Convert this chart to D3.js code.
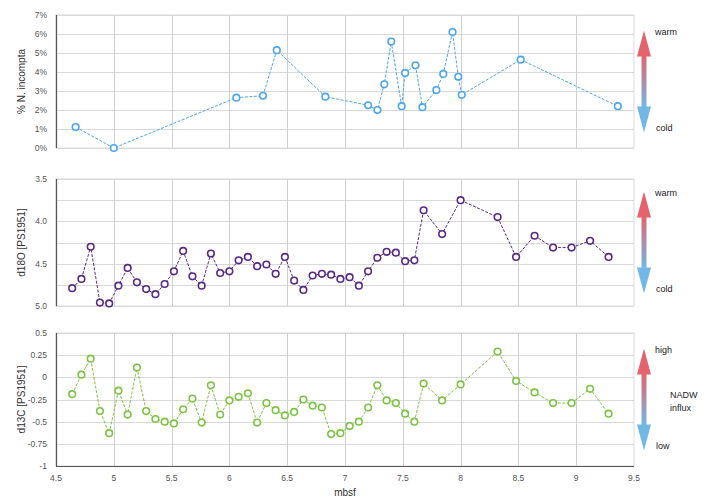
<!DOCTYPE html>
<html>
<head>
<meta charset="utf-8">
<script src="https://cdn.jsdelivr.net/npm/d3@7"></script>
<style>
  html, body { margin: 0; padding: 0; background: #ffffff; }
  svg { display: block; font-family: "Liberation Sans", Arial, Helvetica, sans-serif; }
</style>
</head>
<body>
<svg id="chart" width="710" height="500"></svg>
<script>
// Depth (mbsf) of each N. incompta sample and its abundance (%)
const incomptaDepth = [4.67, 5.00, 6.06, 6.29, 6.41, 6.83, 7.20, 7.28, 7.34, 7.40, 7.49, 7.52, 7.61, 7.67, 7.79, 7.85, 7.93, 7.98, 8.01, 8.52, 9.36];
const incomptaPct   = [1.1, 0.0, 2.65, 2.75, 5.15, 2.7, 2.25, 2.0, 3.35, 5.6, 2.2, 3.95, 4.35, 2.15, 3.05, 3.9, 6.1, 3.75, 2.8, 4.65, 2.2];

// Depths of the stable isotope samples (PS1951)
const isoDepth = [4.64, 4.72, 4.80, 4.88, 4.96, 5.04, 5.12, 5.20, 5.28, 5.36, 5.44, 5.52, 5.60, 5.68, 5.76, 5.84,
                  5.92, 6.00, 6.08, 6.16, 6.24, 6.32, 6.40, 6.48, 6.56, 6.64, 6.72, 6.80, 6.88, 6.96, 7.04, 7.12,
                  7.20, 7.28, 7.36, 7.44, 7.52, 7.60, 7.68, 7.84, 8.00, 8.32, 8.48, 8.64, 8.80, 8.96, 9.12, 9.28];
const d18O = [4.79, 4.68, 4.30, 4.96, 4.97, 4.76, 4.55, 4.72, 4.80, 4.86, 4.74, 4.59, 4.35, 4.65, 4.76, 4.38,
              4.61, 4.59, 4.46, 4.42, 4.53, 4.51, 4.62, 4.42, 4.70, 4.81, 4.64, 4.62, 4.63, 4.68, 4.66, 4.76,
              4.59, 4.43, 4.36, 4.37, 4.47, 4.46, 3.87, 4.15, 3.75, 3.95, 4.42, 4.17, 4.31, 4.31, 4.23, 4.42];
const d13C = [-0.19, 0.03, 0.21, -0.38, -0.63, -0.15, -0.42, 0.11, -0.38, -0.47, -0.50, -0.52, -0.36, -0.24, -0.51, -0.09,
              -0.42, -0.26, -0.22, -0.18, -0.51, -0.29, -0.37, -0.43, -0.39, -0.25, -0.32, -0.34, -0.64, -0.63, -0.55, -0.50,
              -0.34, -0.09, -0.26, -0.29, -0.41, -0.50, -0.07, -0.26, -0.08, 0.29, -0.04, -0.17, -0.29, -0.29, -0.13, -0.41];

// Axis ticks
const xTicks = [4.5, 5, 5.5, 6, 6.5, 7, 7.5, 8, 8.5, 9, 9.5];
const xTickLabels = ["4.5", "5", "5.5", "6", "6.5", "7", "7.5", "8", "8.5", "9", "9.5"];
const pctTicks = [0, 1, 2, 3, 4, 5, 6, 7];
const pctTickLabels = ["0%", "1%", "2%", "3%", "4%", "5%", "6%", "7%"];
const d18OTicks = [3.5, 4.0, 4.5, 5.0];
const d18OTickLabels = ["3.5", "4.0", "4.5", "5.0"];
const d18OGrid = [3.5, 3.75, 4.0, 4.25, 4.5, 4.75, 5.0];
const d13CTicks = [0.5, 0.25, 0, -0.25, -0.5, -0.75, -1];
const d13CTickLabels = ["0.5", "0.25", "0", "-0.25", "-0.5", "-0.75", "-1"];

const svg = d3.select("#chart");
const left = 56, right = 634;
const x = d3.scaleLinear().domain([4.5, 9.5]).range([left, right]);

const defs = svg.append("defs");
const grad = defs.append("linearGradient").attr("id", "arrowGrad")
  .attr("x1", 0).attr("y1", 0).attr("x2", 0).attr("y2", 1);
grad.append("stop").attr("offset", "0%").attr("stop-color", "#e4646c");
grad.append("stop").attr("offset", "100%").attr("stop-color", "#72b8e6");
defs.append("filter").attr("id", "soft").append("feGaussianBlur").attr("stdDeviation", 0.5);

const panels = [
  { top: 15, bottom: 148, domain: [0, 7], ticks: pctTicks, labels: pctTickLabels, grid: pctTicks,
    xs: incomptaDepth, ys: incomptaPct, color: "#4da6ee", title: "% N. incompta",
    up: "warm", down: "cold", bottomAxis: false },
  { top: 179, bottom: 306, domain: [5.0, 3.5], ticks: d18OTicks, labels: d18OTickLabels, grid: d18OGrid,
    xs: isoDepth, ys: d18O, color: "#5a2a84", title: "d18O [PS1951]",
    up: "warm", down: "cold", bottomAxis: false },
  { top: 333, bottom: 466, domain: [-1, 0.5], ticks: d13CTicks, labels: d13CTickLabels, grid: d13CTicks,
    xs: isoDepth, ys: d13C, color: "#7cc443", title: "d13C [PS1951]",
    up: "high", down: "low", side: ["NADW", "influx"], bottomAxis: true }
];

panels.forEach(p => {
  const y = d3.scaleLinear().domain(p.domain).range([p.bottom, p.top]);
  const g = svg.append("g");

  // frame
  g.append("rect").attr("x", left).attr("y", p.top).attr("width", right - left).attr("height", p.bottom - p.top)
    .attr("fill", "none").attr("stroke", "#dcdcdc").attr("stroke-width", 1);

  // horizontal grid
  g.selectAll(".hg").data(p.grid).join("line")
    .attr("x1", left).attr("x2", right)
    .attr("y1", d => Math.round(y(d)) + 0.5).attr("y2", d => Math.round(y(d)) + 0.5)
    .attr("stroke", "#d9d9d9").attr("stroke-width", 1);

  // vertical grid
  g.selectAll(".vg").data(xTicks.slice(1, -1)).join("line")
    .attr("x1", d => Math.round(x(d)) + 0.5).attr("x2", d => Math.round(x(d)) + 0.5)
    .attr("y1", p.top).attr("y2", p.bottom)
    .attr("stroke", "#cfcfcf").attr("stroke-width", 1);

  // left axis line
  g.append("line").attr("x1", left + 0.5).attr("x2", left + 0.5).attr("y1", p.top).attr("y2", p.bottom)
    .attr("stroke", "#555").attr("stroke-width", 1.2);

  // y tick labels
  g.selectAll(".yl").data(p.ticks).join("text")
    .attr("x", 47).attr("y", d => y(d) + 3)
    .attr("text-anchor", "end").attr("font-size", 8.5).attr("fill", "#555")
    .text((d, i) => p.labels[i]);

  // y title
  g.append("text")
    .attr("transform", `translate(25,${(p.top + p.bottom) / 2}) rotate(-90)`)
    .attr("text-anchor", "middle").attr("font-size", 10).attr("fill", "#333")
    .text(p.title);

  // series line and markers
  const pts = p.xs.map((d, i) => [d, p.ys[i]]);
  g.append("path").datum(pts)
    .attr("d", d3.line().x(d => x(d[0])).y(d => y(d[1])))
    .attr("fill", "none").attr("stroke", p.color).attr("stroke-width", 1)
    .attr("stroke-dasharray", "3,1.5");
  g.selectAll(".pt").data(pts).join("circle")
    .attr("cx", d => x(d[0])).attr("cy", d => y(d[1])).attr("r", 3.3)
    .attr("fill", "#fff").attr("stroke", p.color).attr("stroke-width", 1.6);

  // direction arrow
  const cx = 644, mid = (p.top + p.bottom) / 2, half = 51;
  const t = mid - half, b = mid + half, hh = 26, hw = 7, sw = 2.5;
  const arrow = g.append("g").attr("filter", "url(#soft)");
  arrow.append("rect").attr("x", cx - sw).attr("y", t + hh - 1).attr("width", sw * 2).attr("height", (b - hh) - (t + hh) + 2)
    .attr("fill", "url(#arrowGrad)");
  arrow.append("path").attr("d", `M${cx},${t} L${cx + hw},${t + hh} L${cx - hw},${t + hh} Z`).attr("fill", "#e4646c");
  arrow.append("path").attr("d", `M${cx},${b} L${cx + hw},${b - hh} L${cx - hw},${b - hh} Z`).attr("fill", "#72b8e6");

  g.append("text").attr("x", 655).attr("y", t + 4).attr("font-size", 9).attr("fill", "#222").text(p.up);
  g.append("text").attr("x", 656).attr("y", b - 2).attr("font-size", 9).attr("fill", "#222").text(p.down);
  if (p.side) {
    g.selectAll(".side").data(p.side).join("text")
      .attr("x", 670).attr("y", (d, i) => mid - 2 + i * 13)
      .attr("font-size", 9).attr("fill", "#222").text(d => d);
  }

  if (p.bottomAxis) {
    g.append("line").attr("x1", left).attr("x2", right).attr("y1", p.bottom + 0.5).attr("y2", p.bottom + 0.5)
      .attr("stroke", "#555").attr("stroke-width", 1.2);
    g.selectAll(".xl").data(xTicks).join("text")
      .attr("x", d => x(d)).attr("y", p.bottom + 15)
      .attr("text-anchor", "middle").attr("font-size", 8.5).attr("fill", "#555")
      .text((d, i) => xTickLabels[i]);
  }
});

svg.append("text").attr("x", x(7)).attr("y", 496).attr("text-anchor", "middle")
  .attr("font-size", 10).attr("fill", "#333").text("mbsf");
</script>
</body>
</html>
